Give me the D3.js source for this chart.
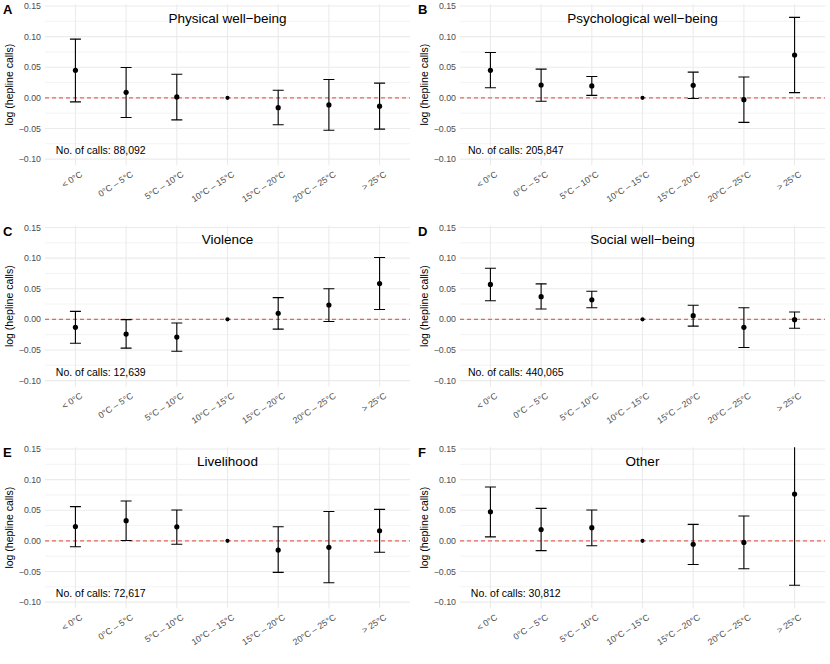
<!DOCTYPE html>
<html>
<head>
<meta charset="utf-8">
<script src="https://cdn.jsdelivr.net/npm/d3@7"></script>
<style>
  body { margin: 0; background: #fff; }
  text { font-family: "Liberation Sans", Arial, sans-serif; }
</style>
</head>
<body>
<div id="chart"></div>
<script>
var svgWidth = 830;
var svgHeight = 664;

// temperature bins on the x axis
var categories = ["< 0°C", "0°C – 5°C", "5°C – 10°C", "10°C – 15°C", "15°C – 20°C", "20°C – 25°C", "> 25°C"];

var panelLetters = ["A", "B", "C", "D", "E", "F"];
var panelTitles = ["Physical well−being", "Psychological well−being", "Violence", "Social well−being", "Livelihood", "Other"];
var callCounts = ["88,092", "205,847", "12,639", "440,065", "72,617", "30,812"];

// estimates and 95% CI per category (reference bin 10-15 has no CI)
var physicalEst = [0.045, 0.009, 0.0015, 0, -0.016, -0.0115, -0.0135];
var physicalLow = [-0.0065, -0.032, -0.036, null, -0.044, -0.053, -0.051];
var physicalHigh = [0.096, 0.0495, 0.0385, null, 0.0125, 0.030, 0.024];

var psychEst = [0.045, 0.021, 0.0195, 0, 0.0205, -0.003, 0.070];
var psychLow = [0.0165, -0.0055, 0.004, null, -0.001, -0.040, 0.0085];
var psychHigh = [0.074, 0.047, 0.035, null, 0.042, 0.034, 0.1315];

var violenceEst = [-0.013, -0.024, -0.029, 0, 0.010, 0.0235, 0.0585];
var violenceLow = [-0.039, -0.047, -0.052, null, -0.016, -0.0035, 0.016];
var violenceHigh = [0.013, -0.0005, -0.006, null, 0.0355, 0.050, 0.101];

var socialEst = [0.057, 0.037, 0.032, 0, 0.006, -0.013, -0.0005];
var socialLow = [0.0305, 0.017, 0.019, null, -0.011, -0.046, -0.0145];
var socialHigh = [0.0835, 0.058, 0.046, null, 0.023, 0.019, 0.012];

var livelihoodEst = [0.0235, 0.033, 0.023, 0, -0.015, -0.0105, 0.0165];
var livelihoodLow = [-0.0095, 0.0005, -0.0055, null, -0.0515, -0.0685, -0.0185];
var livelihoodHigh = [0.056, 0.065, 0.0505, null, 0.023, 0.048, 0.0515];

var otherEst = [0.0475, 0.0185, 0.0215, 0, -0.0055, -0.0025, 0.0765];
var otherLow = [0.0065, -0.016, -0.008, null, -0.0385, -0.0455, -0.0725];
var otherHigh = [0.088, 0.053, 0.0505, null, 0.027, 0.0405, 0.175];

var yTicks = [-0.10, -0.05, 0.00, 0.05, 0.10, 0.15];
var yMinorTicks = [-0.075, -0.025, 0.025, 0.075, 0.125];

var panelData = [
  [physicalEst, physicalLow, physicalHigh],
  [psychEst, psychLow, psychHigh],
  [violenceEst, violenceLow, violenceHigh],
  [socialEst, socialLow, socialHigh],
  [livelihoodEst, livelihoodLow, livelihoodHigh],
  [otherEst, otherLow, otherHigh]
];

// layout of the 3 x 2 grid
var colX = [0, 415];
var rowY = [0, 221.5, 443];
var plotLeft = 45;
var plotRight = 410;
var plotTop = 4.2;
var plotBottom = 165.2;

var svg = d3.select("#chart")
  .append("svg")
  .attr("width", svgWidth)
  .attr("height", svgHeight);

var xScale = d3.scalePoint()
  .domain(categories)
  .range([plotLeft, plotRight])
  .padding(0.6);

var yScale = d3.scaleLinear()
  .domain([-0.11, 0.153])
  .range([plotBottom, plotTop]);

var fmt = d3.format(".2f");

panelData.forEach(function(series, i) {
  var g = svg.append("g")
    .attr("transform", `translate(${colX[i % 2]}, ${rowY[Math.floor(i / 2)]})`);

  var rows = categories.map(function(c, j) {
    return { cat: c, est: series[0][j], lo: series[1][j], hi: series[2][j] };
  });

  // grid
  g.selectAll(".minor")
    .data(yMinorTicks)
    .enter()
    .append("line")
    .attr("x1", plotLeft).attr("x2", plotRight)
    .attr("y1", d => yScale(d)).attr("y2", d => yScale(d))
    .attr("stroke", "#ebebeb")
    .attr("stroke-width", 0.6);

  g.selectAll(".major")
    .data(yTicks)
    .enter()
    .append("line")
    .attr("x1", plotLeft).attr("x2", plotRight)
    .attr("y1", d => yScale(d)).attr("y2", d => yScale(d))
    .attr("stroke", "#ebebeb")
    .attr("stroke-width", 1.1);

  g.selectAll(".vgrid")
    .data(categories)
    .enter()
    .append("line")
    .attr("x1", d => xScale(d)).attr("x2", d => xScale(d))
    .attr("y1", plotTop).attr("y2", plotBottom)
    .attr("stroke", "#ebebeb")
    .attr("stroke-width", 1.1);

  // y tick labels
  g.selectAll(".ylab")
    .data(yTicks)
    .enter()
    .append("text")
    .attr("x", plotLeft - 4)
    .attr("y", d => yScale(d))
    .attr("dy", "0.35em")
    .attr("text-anchor", "end")
    .attr("fill", "#4d4d4d")
    .style("font-size", "8.8px")
    .text(d => fmt(d));

  // x tick labels
  g.selectAll(".xlab")
    .data(categories)
    .enter()
    .append("text")
    .attr("transform", d => `translate(${xScale(d) + 4}, ${plotBottom + 5}) rotate(-33)`)
    .attr("text-anchor", "end")
    .attr("dy", "0.75em")
    .attr("fill", "#4d4d4d")
    .style("font-size", "8.8px")
    .text(d => d);

  // y axis title
  g.append("text")
    .attr("transform", `translate(13, ${(plotTop + plotBottom) / 2}) rotate(-90)`)
    .attr("text-anchor", "middle")
    .style("font-size", "10.5px")
    .text("log (hepline calls)");

  // panel letter
  g.append("text")
    .attr("x", 3)
    .attr("y", 14)
    .style("font-size", "13px")
    .style("font-weight", "bold")
    .text(panelLetters[i]);

  // panel title
  g.append("text")
    .attr("x", (plotLeft + plotRight) / 2)
    .attr("y", 22.5)
    .attr("text-anchor", "middle")
    .style("font-size", "13.5px")
    .text(panelTitles[i]);

  // number of calls, centred half a step right of the first bin
  g.append("text")
    .attr("x", xScale(categories[0]) + xScale.step() * 0.5)
    .attr("y", yScale(-0.0865))
    .attr("dy", "0.35em")
    .attr("text-anchor", "middle")
    .style("font-size", "10.5px")
    .text("No. of calls: " + callCounts[i]);

  // reference line
  g.append("line")
    .attr("x1", plotLeft).attr("x2", plotRight)
    .attr("y1", yScale(0)).attr("y2", yScale(0))
    .attr("stroke", "#e8675d")
    .attr("stroke-width", 1.1)
    .attr("stroke-dasharray", "4,3");

  var clipId = "clip" + i;
  g.append("clipPath")
    .attr("id", clipId)
    .append("rect")
    .attr("x", plotLeft).attr("y", plotTop)
    .attr("width", plotRight - plotLeft)
    .attr("height", plotBottom - plotTop);

  var marks = g.append("g").attr("clip-path", `url(#${clipId})`);
  var withCI = rows.filter(d => d.lo !== null);
  var half = 5.5;

  marks.selectAll(".stem")
    .data(withCI)
    .enter()
    .append("line")
    .attr("x1", d => xScale(d.cat)).attr("x2", d => xScale(d.cat))
    .attr("y1", d => yScale(d.lo)).attr("y2", d => yScale(d.hi))
    .attr("stroke", "#000")
    .attr("stroke-width", 1.1);

  marks.selectAll(".capHi")
    .data(withCI)
    .enter()
    .append("line")
    .attr("x1", d => xScale(d.cat) - half).attr("x2", d => xScale(d.cat) + half)
    .attr("y1", d => yScale(d.hi)).attr("y2", d => yScale(d.hi))
    .attr("stroke", "#000")
    .attr("stroke-width", 1.1);

  marks.selectAll(".capLo")
    .data(withCI)
    .enter()
    .append("line")
    .attr("x1", d => xScale(d.cat) - half).attr("x2", d => xScale(d.cat) + half)
    .attr("y1", d => yScale(d.lo)).attr("y2", d => yScale(d.lo))
    .attr("stroke", "#000")
    .attr("stroke-width", 1.1);

  marks.selectAll("circle")
    .data(rows)
    .enter()
    .append("circle")
    .attr("cx", d => xScale(d.cat))
    .attr("cy", d => yScale(d.est))
    .attr("r", d => d.lo === null ? 2.1 : 2.6)
    .attr("fill", "#000");
});
</script>
</body>
</html>
